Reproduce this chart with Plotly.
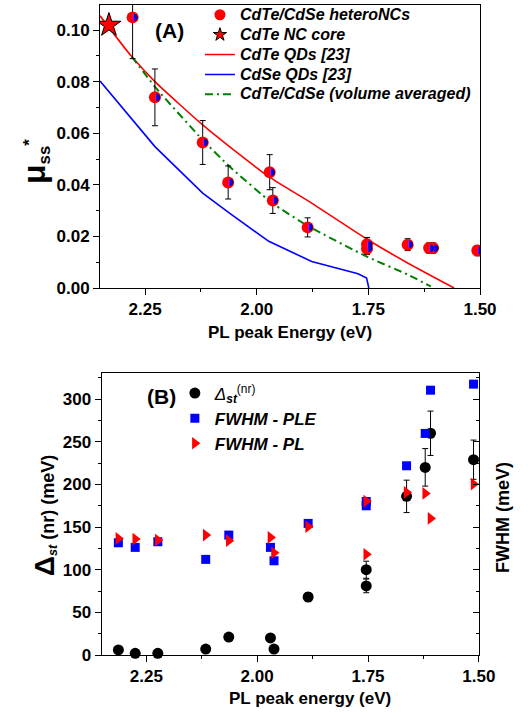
import plotly.graph_objects as go

# ---------- Panel A data ----------
E_het = [2.278, 2.228, 2.121, 2.064, 1.971, 1.964, 1.886, 1.753, 1.753, 1.662, 1.614, 1.605, 1.506]
mu_het = [0.1049, 0.0739, 0.0564, 0.0409, 0.0449, 0.0339, 0.0235, 0.0170, 0.0152, 0.0168, 0.0155, 0.0155, 0.0145]
mu_het_err = [0.016, 0.011, 0.0085, 0.0064, 0.0068, 0.005, 0.0037, 0.0026, 0.0022, 0.0023, 0.002, 0.002, 0.002]

E_core = [2.331]
mu_core = [0.1019]

E_cdte = [2.351, 2.280, 2.228, 2.121, 2.061, 1.973, 1.877, 1.751, 1.662, 1.558]
mu_cdte = [0.1055, 0.0897, 0.0800, 0.0632, 0.0548, 0.0432, 0.0329, 0.0187, 0.0097, 0.0]

E_cdse = [2.351, 2.228, 2.121, 2.061, 1.973, 1.877, 1.773, 1.754, 1.749]
mu_cdse = [0.0802, 0.0548, 0.0368, 0.0290, 0.0181, 0.0103, 0.0055, 0.0039, 0.0]

E_avg = [2.280, 2.228, 2.121, 2.061, 1.965, 1.884, 1.751, 1.662, 1.610]
mu_avg = [0.0897, 0.0780, 0.0574, 0.0471, 0.0329, 0.0239, 0.0120, 0.0052, 0.0006]

# ---------- Panel B data ----------
E_dst = [2.313, 2.275, 2.224, 2.116, 2.064, 1.970, 1.962, 1.885, 1.754, 1.754, 1.663, 1.621, 1.609, 1.512]
dst = [6, 2, 2, 7, 21, 20, 7, 68, 81, 100, 186, 220, 260, 229]
dst_err = [0, 0, 0, 0, 0, 0, 0, 5, 8, 10, 19, 22, 26, 23]

E_ple = [2.313, 2.275, 2.224, 2.116, 2.064, 1.970, 1.962, 1.885, 1.754, 1.754, 1.663, 1.621, 1.609, 1.512]
ple = [131.6, 126.2, 132.8, 112.1, 140.6, 126.2, 110.5, 154.3, 180, 175, 221.9, 259.8, 310.5, 317.6]

E_pl = [2.313, 2.275, 2.224, 2.116, 2.064, 1.970, 1.962, 1.885, 1.754, 1.754, 1.663, 1.621, 1.609, 1.512]
pl = [136.7, 135.9, 134.8, 140.6, 134, 137.9, 119.9, 150.4, 180.5, 118, 190.6, 189.5, 160.2, 200.4]

# tick labels
x_ticks = [2.25, 2.00, 1.75, 1.50]
x_ticklabels = ["2.25", "2.00", "1.75", "1.50"]
mu_ticks = [0, 0.02, 0.04, 0.06, 0.08, 0.10]
mu_ticklabels = ["0.00", "0.02", "0.04", "0.06", "0.08", "0.10"]
b_ticks = [0, 50, 100, 150, 200, 250, 300]
b_ticklabels = ["0", "50", "100", "150", "200", "250", "300"]

FONT = "Liberation Sans, Arial, sans-serif"
RED = "#ff0000"
BLUE = "#0000ff"
GREEN = "#008000"


def lg(s, size=16):
    return "<span style='font-size:%dpx'><b><i>%s</i></b></span>" % (size, s)


def bold(lst):
    return ["<b>%s</b>" % s for s in lst]


fig = go.Figure()

# ----- Panel A: data traces (no legend) -----
fig.add_trace(go.Scatter(x=E_cdte, y=mu_cdte, mode="lines", showlegend=False,
                         line=dict(color=RED, width=1.6, shape="spline", smoothing=0.6), xaxis="x", yaxis="y"))
fig.add_trace(go.Scatter(x=E_cdse, y=mu_cdse, mode="lines", showlegend=False,
                         line=dict(color=BLUE, width=1.6), xaxis="x", yaxis="y"))
fig.add_trace(go.Scatter(x=E_avg, y=mu_avg, mode="lines", showlegend=False,
                         line=dict(color=GREEN, width=2, dash="8px,4px,2px,4px", shape="spline", smoothing=0.5),
                         xaxis="x", yaxis="y"))
fig.add_trace(go.Scatter(x=E_het, y=mu_het, mode="markers", showlegend=False,
                         marker=dict(symbol="circle", size=12, color=RED, line=dict(width=0)),
                         error_y=dict(type="data", array=mu_het_err, color="black", thickness=1, width=3),
                         xaxis="x", yaxis="y"))
fig.add_trace(go.Scatter(x=E_het, y=mu_het, mode="text", showlegend=False, hoverinfo="skip",
                         text=["<span style='color:rgba(0,0,0,0)'>◖</span>◗"] * len(E_het),
                         textfont=dict(color=BLUE, size=10, family="DejaVu Sans"), textposition="middle center",
                         xaxis="x", yaxis="y"))
fig.add_trace(go.Scatter(x=E_core, y=mu_core, mode="markers", showlegend=False,
                         marker=dict(symbol="star", size=18, color=RED, line=dict(width=1, color="black")),
                         xaxis="x", yaxis="y"))

# ----- Panel A: legend entries -----
fig.add_trace(go.Scatter(x=[None], y=[None], mode="markers", name=lg("CdTe/CdSe heteroNCs"),
                         marker=dict(symbol="circle", size=11, color=RED), xaxis="x", yaxis="y", legend="legend"))
fig.add_trace(go.Scatter(x=[None], y=[None], mode="markers", name=lg("CdTe NC core"),
                         marker=dict(symbol="star", size=10, color=RED, line=dict(width=1, color="black")),
                         xaxis="x", yaxis="y", legend="legend"))
fig.add_trace(go.Scatter(x=[None], y=[None], mode="lines", name=lg("CdTe QDs [23]"),
                         line=dict(color=RED, width=1.6), xaxis="x", yaxis="y", legend="legend"))
fig.add_trace(go.Scatter(x=[None], y=[None], mode="lines", name=lg("CdSe QDs [23]"),
                         line=dict(color=BLUE, width=1.6), xaxis="x", yaxis="y", legend="legend"))
fig.add_trace(go.Scatter(x=[None], y=[None], mode="lines", name=lg("CdTe/CdSe (volume averaged)"),
                         line=dict(color=GREEN, width=2, dash="8px,4px,2px,4px"), xaxis="x", yaxis="y",
                         legend="legend"))

# ----- Panel B -----
fig.add_trace(go.Scatter(x=E_dst, y=dst, mode="markers",
                         name="<i>Δ</i><b><i><sub>st</sub></i></b><sup>(nr)</sup>",
                         marker=dict(symbol="circle", size=11, color="black"),
                         error_y=dict(type="data", array=dst_err, color="black", thickness=1, width=3),
                         cliponaxis=False, xaxis="x2", yaxis="y2", legend="legend2"))
fig.add_trace(go.Scatter(x=E_ple, y=ple, mode="markers", name="<b><i>FWHM - PLE</i></b>",
                         marker=dict(symbol="square", size=9, color=BLUE),
                         cliponaxis=False, xaxis="x2", yaxis="y2", legend="legend2"))
fig.add_trace(go.Scatter(x=E_pl, y=pl, mode="markers", name="<b><i>FWHM - PL</i></b>",
                         marker=dict(symbol="triangle-right", size=11, color=RED),
                         cliponaxis=False, xaxis="x2", yaxis="y2", legend="legend2"))
# invisible trace to activate the right-hand axis of panel B
fig.add_trace(go.Scatter(x=E_pl, y=pl, mode="markers", marker=dict(opacity=0, size=1), showlegend=False,
                         hoverinfo="skip", xaxis="x2", yaxis="y3"))

tickfont = dict(family=FONT, size=17, color="black")
common_x = dict(range=[2.351, 1.50], tickvals=x_ticks, ticktext=bold(x_ticklabels),
                ticks="outside", ticklen=6, tickwidth=1, tickcolor="black",
                minor=dict(tickvals=[2.125, 1.875, 1.625], ticks="outside", ticklen=3, tickcolor="black"),
                showline=True, linecolor="black", linewidth=1, mirror=True, showgrid=False, zeroline=False,
                tickfont=tickfont)

fig.update_layout(
    width=531, height=713, plot_bgcolor="white", paper_bgcolor="white",
    margin=dict(l=100, r=51, t=5, b=58, autoexpand=False),
    font=dict(family=FONT, color="black"),
    xaxis=dict(domain=[0, 1], anchor="y", **common_x),
    yaxis=dict(domain=[0.5646, 1], anchor="x", range=[0, 0.1097],
               tickvals=mu_ticks, ticktext=bold(mu_ticklabels),
               ticks="outside", ticklen=6, tickcolor="black",
               minor=dict(dtick=0.01, ticks="outside", ticklen=3, tickcolor="black"),
               showline=True, linecolor="black", linewidth=1, mirror=True, showgrid=False, zeroline=False,
               tickfont=tickfont),
    xaxis2=dict(domain=[0.004, 0.997], anchor="y2", **common_x),
    yaxis2=dict(domain=[0, 0.4343], anchor="x2", range=[0, 331],
                tickvals=b_ticks, ticktext=bold(b_ticklabels),
                ticks="outside", ticklen=6, tickcolor="black",
                minor=dict(dtick=25, ticks="outside", ticklen=3, tickcolor="black"),
                showline=True, linecolor="black", linewidth=1, mirror=True, showgrid=False, zeroline=False,
                tickfont=tickfont),
    yaxis3=dict(overlaying="y2", side="right", anchor="x2", range=[0, 331],
                tickvals=b_ticks, showticklabels=False,
                ticks="inside", ticklen=6, tickcolor="black",
                minor=dict(dtick=25, ticks="inside", ticklen=3, tickcolor="black"),
                showline=False, showgrid=False, zeroline=False),
    legend=dict(x=0.263, y=1.008, xanchor="left", yanchor="top", bgcolor="rgba(0,0,0,0)",
                font=dict(family=FONT, size=13, color="black"), traceorder="normal"),
    legend2=dict(x=0.197, y=0.43, xanchor="left", yanchor="top", bgcolor="rgba(0,0,0,0)",
                 font=dict(family=FONT, size=17, color="black"), traceorder="normal"),
    showlegend=True,
)

ann = [
    dict(text="<b>(A)</b>", x=0.184, y=0.9615, size=21),
    dict(text="<b>(B)</b>", x=0.163, y=0.397, size=21),
    dict(text="<b>PL peak Energy (eV)</b>", x=0.5, y=0.4954, size=17),
    dict(text="<b>PL peak energy (eV)</b>", x=0.553, y=-0.0662, size=17),
    dict(text="<b><span style='font-size:32px'>μ</span><sub>ss</sub><sup>*</sup></b>", x=-0.171, y=0.7585,
         textangle=-90, size=24),
    dict(text="<b><span style='font-size:28px'>Δ</span><sub><i>st</i></sub> (nr) (meV)</b>", x=-0.145, y=0.215,
         textangle=-90, size=18),
    dict(text="<b>FWHM (meV)</b>", x=1.0605, y=0.2123, textangle=-90, size=18),
]
for a in ann:
    size = a.pop("size")
    fig.add_annotation(xref="paper", yref="paper", showarrow=False, xanchor="center", yanchor="middle",
                       font=dict(family=FONT, color="black", size=size), **a)

fig.write_html("out.html")
